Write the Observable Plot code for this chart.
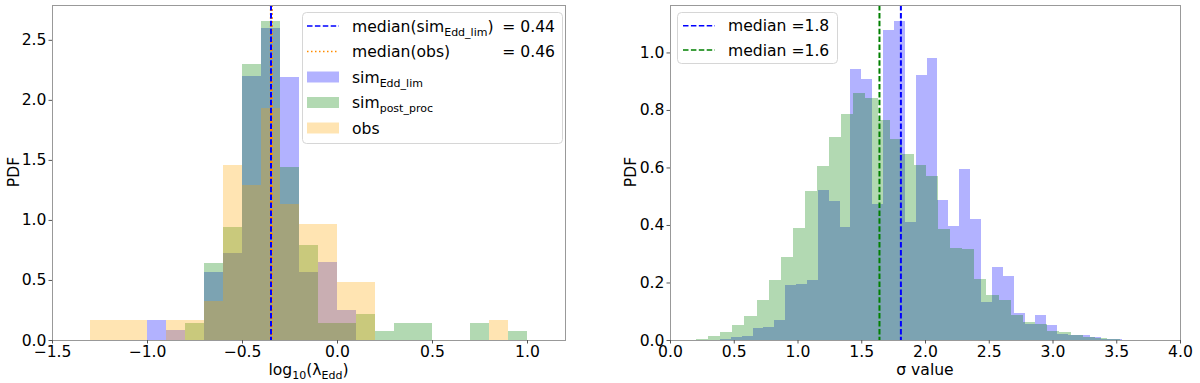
<!DOCTYPE html>
<html><head><meta charset="utf-8">
<script src="https://cdn.jsdelivr.net/npm/d3@7"></script>
<script src="https://cdn.jsdelivr.net/npm/@observablehq/plot@0.6"></script>
<style>
body{margin:0;background:#fff;font-family:"DejaVu Sans",sans-serif;}
#wrap{position:relative;width:1200px;height:383px;overflow:hidden;}
.panel{position:absolute;top:0;}
#overlay{position:absolute;left:0;top:0;pointer-events:none;}
</style>
</head><body>
<div id="wrap"><div id="left" class="panel" style="left:0"></div><div id="right" class="panel" style="left:600px"></div></div>
<script>
// ---------- Left panel data: log10(lambda_Edd), bins of width 0.1 starting at -1.3 ----------
const lamBinStart = -1.3;
const lamBinWidth = 0.1;
const lamSimEddLim = [0,0,0,0.164,0.081,0,0.567,0.728,2.197,2.595,2.19,0.567,0.65,0.247,0,0,0,0,0,0,0,0,0];
const lamSimPostProc = [0,0,0,0,0,0.145,0.645,0.937,2.30,2.66,1.44,0.79,0.145,0.145,0.217,0.072,0.145,0.145,0,0,0.145,0,0.072];
const lamObs = [0.164,0.164,0.164,0,0.164,0.164,0.322,1.456,1.295,1.93,1.13,0.964,0.964,0.483,0.483,0,0,0,0,0,0,0.164,0];
const medianSimEddLim = 0.44;      // legend value
const medianObs = 0.46;            // legend value
const medianSimEddLimLog = -0.350; // line position
const medianObsLog = -0.348;       // line position
const lamXTicks = [-1.5,-1.0,-0.5,0.0,0.5,1.0];
const lamYTicks = [0,0.5,1.0,1.5,2.0,2.5];

// ---------- Right panel data: sigma value ----------
const sigSimBinStart = 0.392, sigSimBinWidth = 0.0853;
const sigSimEddLim = [0.005,0.01,0.014,0.04,0.045,0.068,0.19,0.196,0.21,0.523,0.482,0.393,0.944,0.909,0.474,1.077,1.11,0.41,0.921,0.979,0.486,0.395,0.596,0.422,0.132,0.254,0.223,0.094,0.057,0.086,0.051,0.022,0.016,0.016,0.010,0.005,0.003];
const sigPostBinStart = 0.204, sigPostBinWidth = 0.0949;
const sigSimPostProc = [0.004,0.013,0.028,0.053,0.084,0.138,0.208,0.289,0.391,0.517,0.604,0.706,0.787,0.859,0.84,0.764,0.70,0.648,0.608,0.569,0.387,0.321,0.317,0.211,0.155,0.140,0.086,0.063,0.057,0.030,0.028,0.016,0.012,0.008,0.004];
const sigMedianSim = 1.807;
const sigMedianPost = 1.639;
const sigMedianSimLabel = "1.8";
const sigMedianPostLabel = "1.6";
const sigXTicks = [0,0.5,1.0,1.5,2.0,2.5,3.0,3.5,4.0];
const sigYTicks = [0,0.2,0.4,0.6,0.8,1.0];

const BLUE = "#0000ff", GREEN = "#008000", ORANGE = "#ffa500", DORANGE = "#ff8c00";
const FONT = "15.6px";

function bins(values, start, width) {
  return values.map((v, i) => ({x1: start + i * width, x2: start + (i + 1) * width, y: v})).filter(d => d.y > 0);
}
function bars(values, start, width, color) {
  return Plot.rectY(bins(values, start, width), {x1: "x1", x2: "x2", y: "y", fill: color, fillOpacity: 0.3, inset: 0, shapeRendering: "crispEdges"});
}
const fmt = d3.format(".1f");
const common = {
  width: 600, height: 383, marginTop: 5, marginBottom: 43,
  style: {fontFamily: "DejaVu Sans", fontSize: FONT, color: "#000", background: "transparent"}
};

const leftPlot = Plot.plot({
  ...common, marginLeft: 52, marginRight: 35,
  x: {domain: [-1.5, 1.2]},
  y: {domain: [0, 2.79]},
  marks: [
    bars(lamSimEddLim, lamBinStart, lamBinWidth, BLUE),
    bars(lamSimPostProc, lamBinStart, lamBinWidth, GREEN),
    bars(lamObs, lamBinStart, lamBinWidth, ORANGE),
    Plot.ruleX([medianObsLog], {stroke: DORANGE, strokeWidth: 3, strokeDasharray: "2,2"}),
    Plot.ruleX([medianSimEddLimLog], {stroke: BLUE, strokeWidth: 2, strokeDasharray: "5.5,2.4"}),
    Plot.frame({stroke: "#999"}),
    Plot.axisX({ticks: lamXTicks, tickFormat: fmt, tickSize: 3.5, tickPadding: 1.5, label: null, stroke: "#555"}),
    Plot.axisY({ticks: lamYTicks, tickFormat: fmt, tickSize: 3.5, tickPadding: 2.5, label: null, stroke: "#555"})
  ]
});
document.getElementById("left").appendChild(leftPlot);

const rightPlot = Plot.plot({
  ...common, marginLeft: 70, marginRight: 20,
  x: {domain: [0, 4]},
  y: {domain: [0, 1.165]},
  marks: [
    bars(sigSimEddLim, sigSimBinStart, sigSimBinWidth, BLUE),
    bars(sigSimPostProc, sigPostBinStart, sigPostBinWidth, GREEN),
    Plot.ruleX([sigMedianSim], {stroke: BLUE, strokeWidth: 2, strokeDasharray: "5.5,2.4"}),
    Plot.ruleX([sigMedianPost], {stroke: GREEN, strokeWidth: 2, strokeDasharray: "5.5,2.4"}),
    Plot.frame({stroke: "#999"}),
    Plot.axisX({ticks: sigXTicks, tickFormat: fmt, tickSize: 3.5, tickPadding: 1.5, label: null, stroke: "#555"}),
    Plot.axisY({ticks: sigYTicks, tickFormat: fmt, tickSize: 3.5, tickPadding: 2.5, label: null, stroke: "#555"})
  ]
});
document.getElementById("right").appendChild(rightPlot);

// ---------- overlay: axis titles and legends ----------
const ov = d3.select("#wrap").append("svg").attr("id", "overlay")
  .attr("width", 1200).attr("height", 383)
  .style("font-family", "DejaVu Sans").style("font-size", FONT);

function subText(g, x, y, parts, anchor) {
  const t = g.append("text").attr("x", x).attr("y", y).attr("fill", "#000");
  if (anchor) t.attr("text-anchor", anchor);
  let shifted = false;
  parts.forEach(p => {
    if (p.sub) {
      t.append("tspan").attr("dy", 4).style("font-size", "11px").text(p.sub);
      shifted = true;
    } else {
      const ts = t.append("tspan").text(p.t);
      if (shifted) { ts.attr("dy", -4); shifted = false; }
    }
  });
  return t;
}

// axis titles
ov.append("text").attr("transform", "translate(19,172) rotate(-90)").attr("text-anchor", "middle").text("PDF");
ov.append("text").attr("transform", "translate(636,172) rotate(-90)").attr("text-anchor", "middle").text("PDF");
subText(ov, 308.5, 375, [{t: "log"}, {sub: "10"}, {t: "(λ"}, {sub: "Edd"}, {t: ")"}], "middle");
ov.append("text").attr("x", 925).attr("y", 375).attr("text-anchor", "middle").text("σ value");

// left legend
const L = ov.append("g");
L.append("rect").attr("x", 302.5).attr("y", 12.5).attr("width", 260).attr("height", 131).attr("rx", 4)
  .attr("fill", "#fff").attr("fill-opacity", 0.8).attr("stroke", "#d6d6d6");
const ly = [26, 51.5, 77, 102.5, 128];
L.append("line").attr("x1", 307).attr("x2", 339).attr("y1", ly[0]).attr("y2", ly[0])
  .attr("stroke", BLUE).attr("stroke-width", 1.5).attr("stroke-dasharray", "5.5,2.4");
L.append("line").attr("x1", 307).attr("x2", 339).attr("y1", ly[1]).attr("y2", ly[1])
  .attr("stroke", DORANGE).attr("stroke-width", 1.5).attr("stroke-dasharray", "1.5,2.5");
[BLUE, GREEN, ORANGE].forEach((c, i) => {
  L.append("rect").attr("x", 307).attr("y", ly[i + 2] - 5.5).attr("width", 32).attr("height", 11)
    .attr("fill", c).attr("fill-opacity", 0.3);
});
subText(L, 352, ly[0] + 5.5, [{t: "median(sim"}, {sub: "Edd_lim"}, {t: ")"}]);
L.append("text").attr("x", 555).attr("y", ly[0] + 5.5).attr("text-anchor", "end").text("= " + medianSimEddLim.toFixed(2));
L.append("text").attr("x", 352).attr("y", ly[1] + 5.5).text("median(obs)");
L.append("text").attr("x", 555).attr("y", ly[1] + 5.5).attr("text-anchor", "end").text("= " + medianObs.toFixed(2));
subText(L, 352, ly[2] + 5.5, [{t: "sim"}, {sub: "Edd_lim"}]);
subText(L, 352, ly[3] + 5.5, [{t: "sim"}, {sub: "post_proc"}]);
L.append("text").attr("x", 352).attr("y", ly[4] + 5.5).text("obs");

// right legend
const R = ov.append("g");
R.append("rect").attr("x", 677.5).attr("y", 12.5).attr("width", 160).attr("height", 51).attr("rx", 4)
  .attr("fill", "#fff").attr("fill-opacity", 0.8).attr("stroke", "#d6d6d6");
const ry = [25.7, 50];
[[BLUE, sigMedianSimLabel], [GREEN, sigMedianPostLabel]].forEach(([c, lab], i) => {
  R.append("line").attr("x1", 683).attr("x2", 715).attr("y1", ry[i]).attr("y2", ry[i])
    .attr("stroke", c).attr("stroke-width", 1.5).attr("stroke-dasharray", "5.5,2.4");
  R.append("text").attr("x", 728).attr("y", ry[i] + 5.5).text("median =" + lab);
});
</script>
</body></html>
